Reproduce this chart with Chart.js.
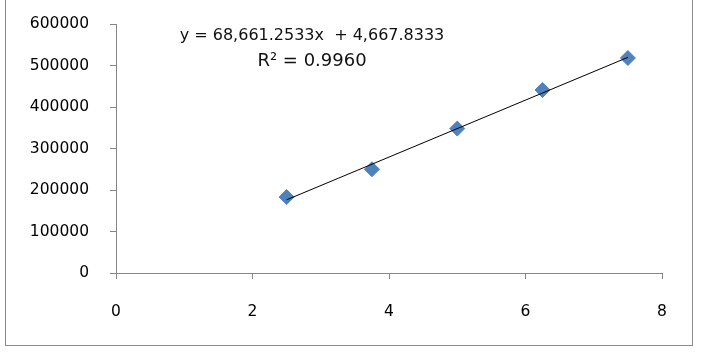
<!DOCTYPE html>
<html>
<head>
<meta charset="utf-8">
<script src="https://cdn.jsdelivr.net/npm/chart.js@4/dist/chart.umd.min.js"></script>
<style>
  html, body { margin: 0; padding: 0; background: #fff; }
  #wrap { position: relative; width: 701px; height: 354px; }
  #frame { position: absolute; left: 5px; top: -2px; width: 686px; height: 346px; border: 1px solid #8a8a8a; }
  canvas { position: absolute; left: 0; top: 0; }
</style>
</head>
<body>
<div id="wrap">
  <div id="frame"></div>
  <canvas id="chart" width="701" height="354"></canvas>
</div>
<script>
// données
const xValues = [2.5, 3.75, 5, 6.25, 7.5];
const yValues = [183000, 250000, 348000, 441000, 518000];

// courbe de tendance (extrémités de la droite affichée)
const trendX = [2.5, 7.5];
const trendY = [176321, 519627];

const equationText = 'y = 68,661.2533x  + 4,667.8333';
const r2Text = 'R\u00B2 = 0.9960';

const xTicks = [0, 2, 4, 6, 8];
const yTicks = [0, 100000, 200000, 300000, 400000, 500000, 600000];

const axisGray = '#868686';
const pointBlue = '#4F81BD';

// texte de l'équation
const equationLabel = {
    id: 'equationLabel',
    afterDraw(chart) {
        const ctx = chart.ctx;
        ctx.save();
        ctx.fillStyle = '#111';
        ctx.textAlign = 'center';
        ctx.textBaseline = 'middle';
        ctx.font = '16px "DejaVu Sans"';
        ctx.fillText(equationText, 312, 36);
        ctx.font = '18px "DejaVu Sans"';
        ctx.fillText(r2Text, 312, 61);
        ctx.restore();
    }
};

new Chart(document.getElementById('chart').getContext('2d'), {
    type: 'scatter',
    data: {
        datasets: [
            {
                label: 'Tendance',
                type: 'line',
                data: trendX.map((x, i) => ({ x: x, y: trendY[i] })),
                borderColor: '#000',
                borderWidth: 1,
                pointRadius: 0,
                fill: false
            },
            {
                label: 'Mesures',
                data: xValues.map((x, i) => ({ x: x, y: yValues[i] })),
                pointStyle: 'rectRot',
                pointRadius: 7.5,
                backgroundColor: pointBlue,
                borderColor: pointBlue,
                borderWidth: 1
            }
        ]
    },
    options: {
        responsive: false,
        animation: false,
        layout: { padding: { top: 24, right: 39, left: 0, bottom: 0 } },
        plugins: {
            legend: { display: false },
            tooltip: { enabled: false }
        },
        scales: {
            x: {
                type: 'linear',
                min: 0,
                max: 8,
                afterBuildTicks: (scale) => { scale.ticks = xTicks.map(v => ({ value: v })); },
                afterFit: (scale) => {
                    scale.height = 81;
                    scale.paddingLeft = 0;
                    scale.paddingRight = 0;
                },
                border: { display: true, color: axisGray, width: 1 },
                grid: { drawOnChartArea: false, drawTicks: true, tickLength: 6, color: axisGray },
                ticks: {
                    padding: 24,
                    color: '#000',
                    font: { family: 'DejaVu Sans', size: 15.5 }
                }
            },
            y: {
                type: 'linear',
                min: 0,
                max: 600000,
                afterBuildTicks: (scale) => { scale.ticks = yTicks.map(v => ({ value: v })); },
                afterFit: (scale) => {
                    scale.width = 116;
                    scale.paddingTop = 0;
                    scale.paddingBottom = 0;
                },
                border: { display: true, color: axisGray, width: 1 },
                grid: { drawOnChartArea: false, drawTicks: true, tickLength: 6, color: axisGray },
                ticks: {
                    padding: 21,
                    color: '#000',
                    font: { family: 'DejaVu Sans', size: 15.5 },
                    callback: (v) => String(v)
                }
            }
        }
    },
    plugins: [equationLabel]
});
</script>
</body>
</html>
